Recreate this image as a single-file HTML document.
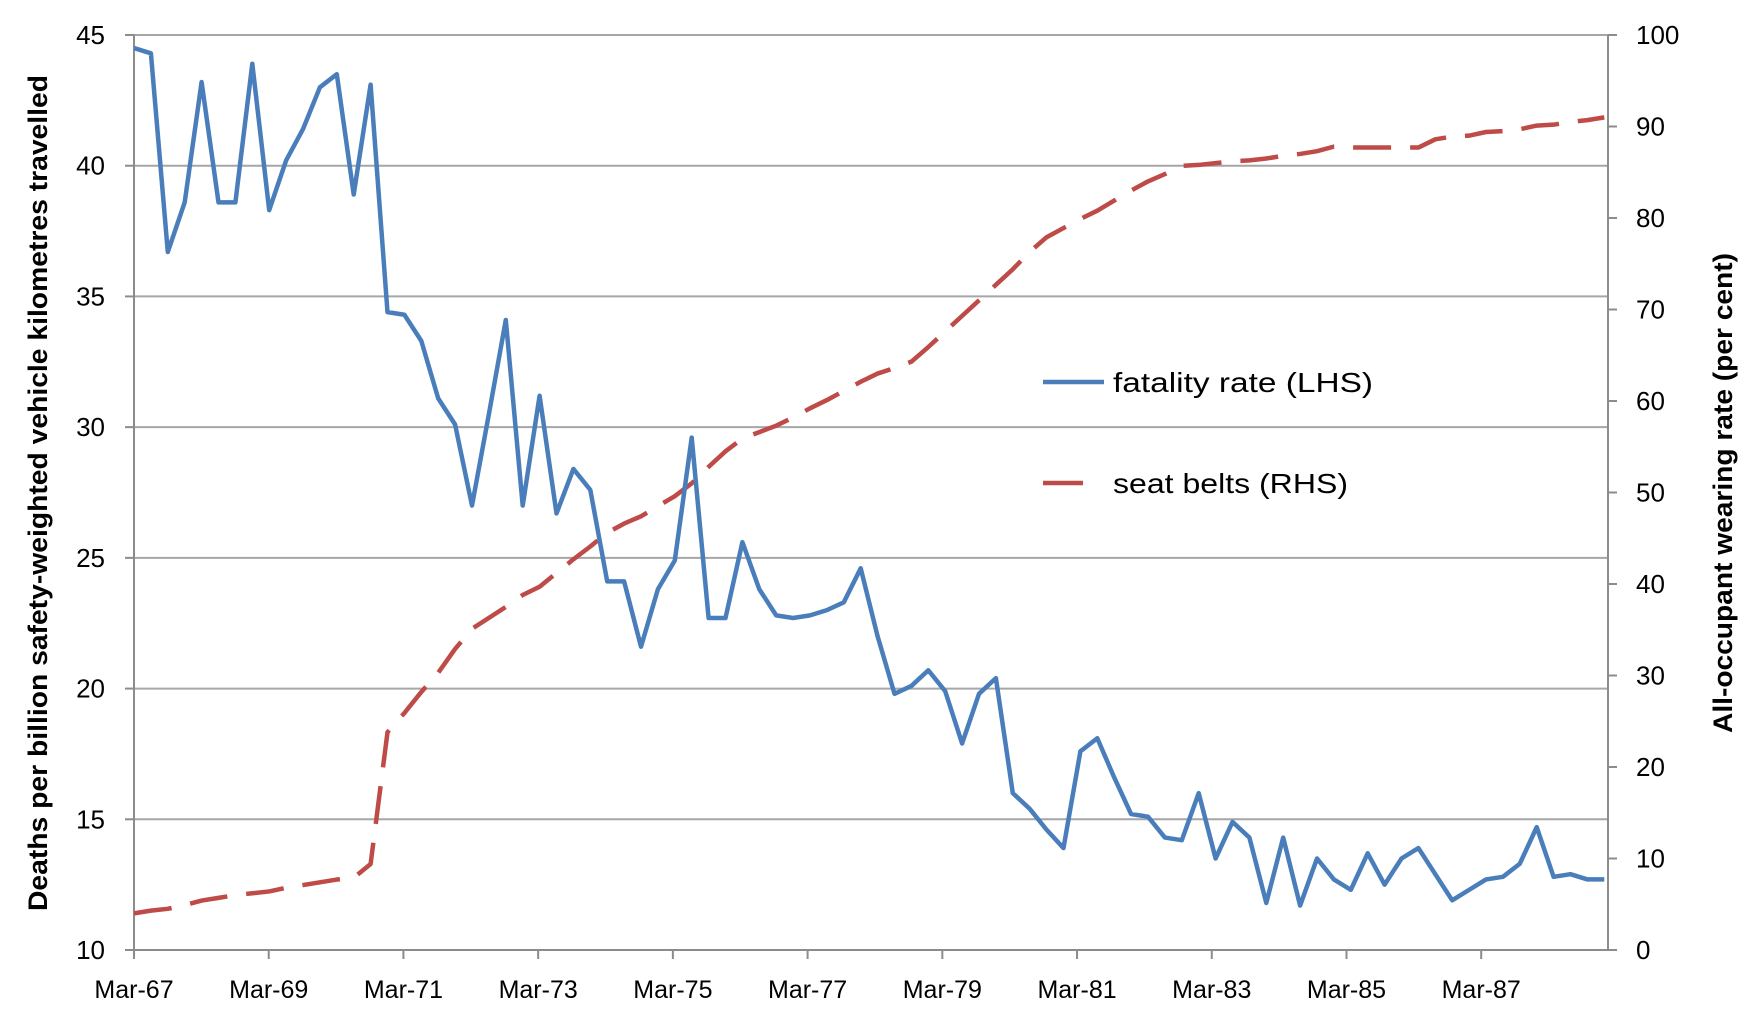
<!DOCTYPE html>
<html><head><meta charset="utf-8"><style>
html,body{margin:0;padding:0;background:#fff;}
svg{display:block;font-family:"Liberation Sans",sans-serif;}
</style></head><body>
<svg id="chart" width="1756" height="1030" viewBox="0 0 1756 1030">
<g id="grid"></g><g id="axes"></g><g id="series"></g>
<text transform="translate(47,493) rotate(-90)" text-anchor="middle" font-size="27" font-weight="bold" textLength="836" lengthAdjust="spacingAndGlyphs">Deaths per billion safety-weighted vehicle kilometres travelled</text>
<text transform="translate(1732,493) rotate(-90)" text-anchor="middle" font-size="27" font-weight="bold" textLength="480" lengthAdjust="spacingAndGlyphs">All-occupant wearing rate (per cent)</text>
<g>
<line x1="1043" y1="382" x2="1104" y2="382" stroke="#4a7ebb" stroke-width="4.5"/>
<text x="1113" y="392" font-size="28" textLength="260" lengthAdjust="spacingAndGlyphs">fatality rate (LHS)</text>
<line x1="1043" y1="483" x2="1083" y2="483" stroke="#be4b48" stroke-width="4.5"/>
<text x="1113" y="493" font-size="28" textLength="235" lengthAdjust="spacingAndGlyphs">seat belts (RHS)</text>
</g>
</svg>
<script>
const fatality=[44.5,44.3,36.7,38.6,43.2,38.6,38.6,43.9,38.3,40.2,41.4,43.0,43.5,38.9,43.1,34.4,34.3,33.3,31.1,30.1,27.0,30.5,34.1,27.0,31.2,26.7,28.4,27.6,24.1,24.1,21.6,23.8,24.9,29.6,22.7,22.7,25.6,23.8,22.8,22.7,22.8,23.0,23.3,24.6,22.0,19.8,20.1,20.7,19.9,17.9,19.8,20.4,16.0,15.4,14.6,13.9,17.6,18.1,16.6,15.2,15.1,14.3,14.2,16.0,13.5,14.9,14.3,11.8,14.3,11.7,13.5,12.7,12.3,13.7,12.5,13.5,13.9,12.9,11.9,12.3,12.7,12.8,13.3,14.7,12.8,12.9,12.7,12.7];
const seatbelts=[4.0,4.3,4.5,4.9,5.4,5.7,6.0,6.2,6.4,6.8,7.1,7.4,7.7,7.9,9.4,23.8,25.9,28.2,30.3,32.9,35.1,36.3,37.5,38.8,39.7,41.2,42.7,44.1,45.6,46.6,47.4,48.5,49.6,51.0,52.8,54.5,55.9,56.6,57.3,58.2,59.2,60.1,61.1,62.1,63.0,63.6,64.3,65.9,67.6,69.3,71.0,72.7,74.4,76.3,77.9,78.9,79.9,80.8,81.9,83.0,84.0,84.8,85.7,85.8,86.0,86.2,86.3,86.5,86.8,87.0,87.3,87.8,87.7,87.7,87.7,87.7,87.7,88.6,88.9,89.0,89.4,89.5,89.7,90.1,90.2,90.5,90.7,91.0];
const leftTicks=[10,15,20,25,30,35,40,45];
const rightTicks=[0,10,20,30,40,50,60,70,80,90,100];
const xTickLabels=["Mar-67","Mar-69","Mar-71","Mar-73","Mar-75","Mar-77","Mar-79","Mar-81","Mar-83","Mar-85","Mar-87"];
const NS="http://www.w3.org/2000/svg";
const L=134,R=1608,T=35,B=950,QW=16.9;
const x=i=>L+i*QW;
const yL=v=>B-(v-10)/35*(B-T);
const yR=v=>B-v/100*(B-T);
function mk(parent,tag,attrs,text){const e=document.createElementNS(NS,tag);for(const k in attrs)e.setAttribute(k,attrs[k]);if(text!==undefined)e.textContent=text;document.getElementById(parent).appendChild(e);return e;}
leftTicks.forEach(v=>{
 if(v>10){const g=mk('grid','line',{x1:L,x2:R,y1:yL(v),y2:yL(v),stroke:'#a6a6a6','stroke-width':2});
 
 }
 const t=mk('axes','line',{x1:L-9,x2:L,y1:yL(v),y2:yL(v),stroke:'#8c8c8c','stroke-width':2});
 
 
 const lb=mk('axes','text',{x:105,y:yL(v)+9,'text-anchor':'end','font-size':26},String(v));
 
 
});
rightTicks.forEach(v=>{
 const t=mk('axes','line',{x1:R,x2:R+9,y1:yR(v),y2:yR(v),stroke:'#8c8c8c','stroke-width':2});
 
 
 const lb=mk('axes','text',{x:1636,y:yR(v)+9,'font-size':26},String(v));
 
 
});
xTickLabels.forEach((s,k)=>{
 const xx=L+k*8*16.84;
 const t=mk('axes','line',{x1:xx,x2:xx,y1:B,y2:B+9,stroke:'#8c8c8c','stroke-width':2});
 
 
 const lb=mk('axes','text',{x:xx,y:998,'text-anchor':'middle','font-size':25},s);
 
 
});
const ax1=mk('axes','line',{x1:L,x2:L,y1:T,y2:B,stroke:'#8c8c8c','stroke-width':2});


const ax2=mk('axes','line',{x1:R,x2:R,y1:T,y2:B,stroke:'#8c8c8c','stroke-width':2});


const ax3=mk('axes','line',{x1:L,x2:R,y1:B,y2:B,stroke:'#8c8c8c','stroke-width':2});


const sb=mk('series','polyline',{points:seatbelts.map((v,i)=>x(i)+','+yR(v)).join(' '),fill:'none',stroke:'#be4b48','stroke-width':4.5,'stroke-dasharray':'38 19','stroke-linejoin':'round'});


const fr=mk('series','polyline',{points:fatality.map((v,i)=>x(i)+','+yL(v)).join(' '),fill:'none',stroke:'#4a7ebb','stroke-width':4.5,'stroke-linejoin':'round'});


</script>
</body></html>
